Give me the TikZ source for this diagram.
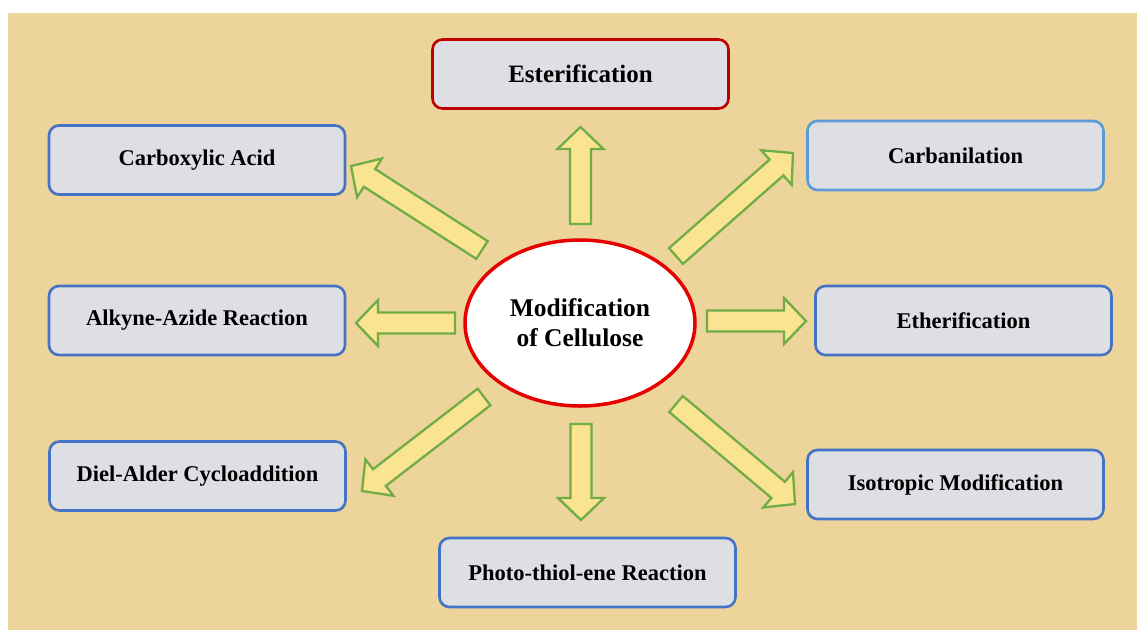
\documentclass[tikz,border=0pt]{standalone}
\usepackage{fontspec}
\setmainfont{Liberation Serif}
\usetikzlibrary{calc,shapes.geometric}
\definecolor{bgtan}{RGB}{236,212,154}
\definecolor{boxfill}{RGB}{221,223,229}
\definecolor{boxblue}{RGB}{68,114,196}
\definecolor{boxlblue}{RGB}{91,155,213}
\definecolor{boxred}{RGB}{192,0,0}
\definecolor{ellred}{RGB}{230,0,0}
\definecolor{arryellow}{RGB}{250,227,145}
\definecolor{arrgreen}{RGB}{112,173,71}
\tikzset{
  stepbox/.style={draw=boxblue, fill=boxfill, line width=2.6pt, rounded corners=10pt,
    minimum width=296pt, minimum height=69pt, inner sep=0pt,
    font=\fontsize{22.5}{26}\selectfont\bfseries},
  centre/.style={ellipse, draw=ellred, fill=white, line width=3.5pt,
    minimum width=230pt, minimum height=166pt, inner sep=0pt, align=center,
    font=\fontsize{25.5}{30}\selectfont\bfseries},
  barrow/.style={draw=arrgreen, fill=arryellow, line width=2.3pt, line join=miter}
}
\newcommand\blockarrow[2]{%
  \draw[barrow] let \p1=($(#2)-(#1)$), \n1={atan2(\y1,\x1)}, \n2={veclen(\x1,\y1)-22} in
    ([shift={(#1)},rotate=\n1]0pt,-10.5pt) --
    ([shift={(#1)},rotate=\n1]\n2,-10.5pt) --
    ([shift={(#1)},rotate=\n1]\n2,-23pt) --
    (#2) --
    ([shift={(#1)},rotate=\n1]\n2,23pt) --
    ([shift={(#1)},rotate=\n1]\n2,10.5pt) --
    ([shift={(#1)},rotate=\n1]0pt,10.5pt) -- cycle;}
\begin{document}
\begin{tikzpicture}[x=1pt,y=-1pt]
\useasboundingbox (0,0) rectangle (1137,630);
\fill[white] (0,0) rectangle (1137,630);
\fill[bgtan] (8,13) rectangle (1137,630);

\node[centre] (mc) at (580,323) {Modification\\of Cellulose};

\node[stepbox, draw=boxred, font=\fontsize{25}{29}\selectfont\bfseries] (est) at (580.5,74) {Esterification};
\node[stepbox] (carb) at (197,160) {Carboxylic Acid};
\node[stepbox, draw=boxlblue] (cban) at (955.5,155.5) {Carbanilation};
\node[stepbox] (alk) at (197,320.5) {Alkyne-Azide Reaction};
\node[stepbox] (eth) at (963.5,320.5) {Etherification};
\node[stepbox] (diel) at (197.5,476) {Diel-Alder Cycloaddition};
\node[stepbox] (iso) at (955.5,484.5) {Isotropic Modification};
\node[stepbox] (photo) at (587.5,572.5) {Photo-thiol-ene Reaction};

\coordinate (uS) at (580.5,224); \coordinate (uT) at (580.5,127);
\coordinate (dS) at (581,424);   \coordinate (dT) at (581,520);
\coordinate (lS) at (455,323);   \coordinate (lT) at (356,323);
\coordinate (rS) at (707,321);   \coordinate (rT) at (806,321);
\coordinate (ulS) at (482,250);  \coordinate (ulT) at (351,166);
\coordinate (urS) at (676,256);  \coordinate (urT) at (793,153);
\coordinate (dlS) at (484,397);  \coordinate (dlT) at (362,491);
\coordinate (drS) at (676,404);  \coordinate (drT) at (795,504);

\blockarrow{uS}{uT}
\blockarrow{dS}{dT}
\blockarrow{lS}{lT}
\blockarrow{rS}{rT}
\blockarrow{ulS}{ulT}
\blockarrow{urS}{urT}
\blockarrow{dlS}{dlT}
\blockarrow{drS}{drT}
\end{tikzpicture}
\end{document}
